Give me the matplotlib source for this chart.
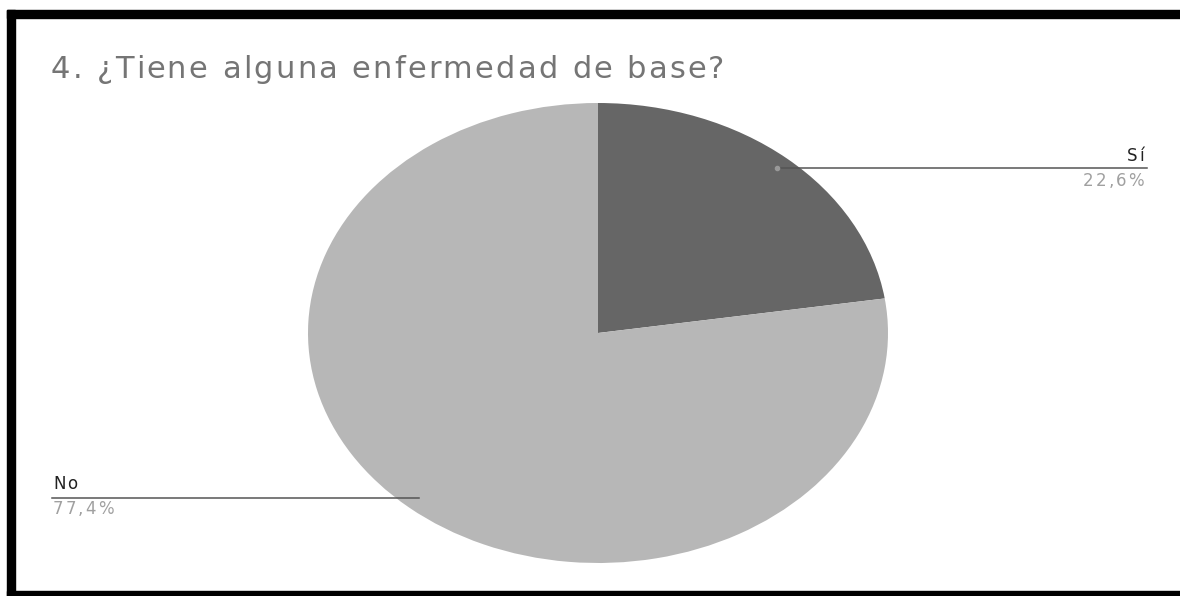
import matplotlib
matplotlib.use('Agg')
import matplotlib.pyplot as plt
import numpy as np

# data
labels = ['Sí', 'No']
values = [22.6, 77.4]
pct_text = ['22,6%', '77,4%']
colors = ['#666666', '#b7b7b7']
title = '4. ¿Tiene alguna enfermedad de base?'

W, H = 1180, 596
fig = plt.figure(figsize=(W / 100, H / 100), dpi=100)
fig.patch.set_facecolor('white')
plt.rcParams['font.family'] = ['DejaVu Sans']

# pie area (stretched like the screenshot)
ax = fig.add_axes([308 / W, 1 - 563 / H, 580 / W, 460 / H])
wedges, _ = ax.pie(values, colors=colors, startangle=90, counterclock=False,
                   wedgeprops=dict(linewidth=0))
ax.set_aspect('auto')
ax.set_xlim(-1, 1)
ax.set_ylim(-1, 1)
ax.axis('off')

# overlay in pixel coords for labels
ov = fig.add_axes([0, 0, 1, 1], facecolor='none')
ov.set_xlim(0, W)
ov.set_ylim(H, 0)
ov.axis('off')
renderer = fig.canvas.get_renderer()


def text_w(s, **kw):
    t = ov.text(0, 0, s, **kw)
    w = t.get_window_extent(renderer).width
    t.remove()
    return w


def tracked(x, y, s, track, ha='left', **kw):
    # draw text char by char with extra letter spacing
    ref = text_w('x', **kw)
    total = text_w(s, **kw) + track * (len(s) - 1)
    x0 = x - total if ha == 'right' else x
    for i, ch in enumerate(s):
        if ch == ' ':
            continue
        off = text_w(s[:i] + 'x', **kw) - ref if i > 0 else 0
        ov.text(x0 + off + i * track, y, ch, ha='left', va='baseline', **kw)


def to_px(x, y):
    fx, fy = fig.transFigure.inverted().transform(ax.transData.transform((x, y)))
    return fx * W, (1 - fy) * H


for i, w in enumerate(wedges):
    mid = np.deg2rad((w.theta1 + w.theta2) / 2)
    px, py = to_px(0.945 * np.cos(mid), 0.945 * np.sin(mid))
    if np.cos(mid) > 0:
        ov.plot([px, 1147], [py, py], color='#555555', lw=1.1)
        ov.plot(px, py, 'o', color='#999999', ms=3)
        tracked(1144, py - 7, labels[i], 2, ha='right', fontsize=12, color='#222222')
        tracked(1144, py + 18, pct_text[i], 2, ha='right', fontsize=12, color='#a0a0a0')
    else:
        ov.plot([52, px], [py, py], color='#555555', lw=1.1)
        tracked(53, py - 9, labels[i], 1.5, fontsize=12, color='#222222')
        tracked(53, py + 16, pct_text[i], 2, fontsize=12, color='#a0a0a0')

tracked(51, 78, title, 2.3, fontsize=22, color='#757575')

# black frame (top, left, bottom)
ov.add_patch(plt.Rectangle((7, 10), W, 8, color='black'))
ov.add_patch(plt.Rectangle((7, 10), 8, H, color='black'))
ov.add_patch(plt.Rectangle((7, 591), W, 10, color='black'))

fig.savefig('out.png', dpi=100, facecolor='white')
